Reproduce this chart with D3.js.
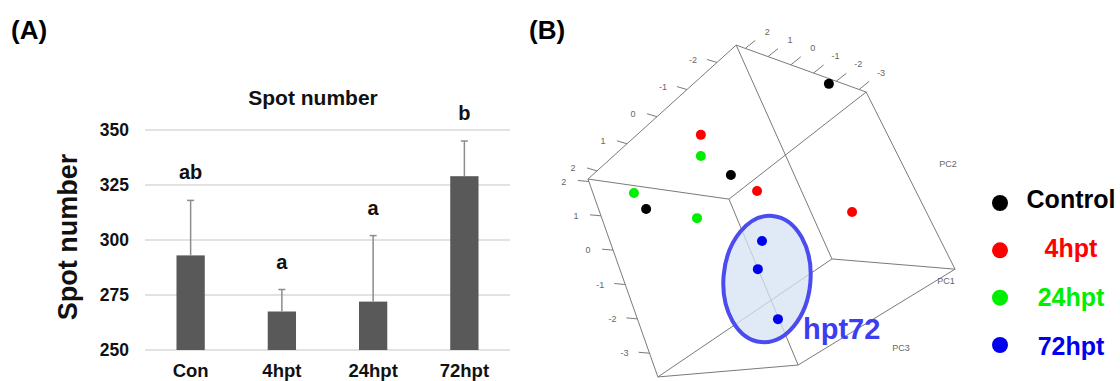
<!DOCTYPE html>
<html>
<head>
<meta charset="utf-8">
<script src="https://cdn.jsdelivr.net/npm/d3@7"></script>
<style>
  body { margin: 0; background: #fff; }
  svg { display: block; font-family: "Liberation Sans", Arial, sans-serif; }
</style>
</head>
<body>
<div id="fig"></div>
<script>
    // ---- panel A: spot number bars ----
    var groups = ["Con", "4hpt", "24hpt", "72hpt"];
    var spotMean = [293, 267.5, 272, 329];
    var spotErr = [25, 10, 30, 16];
    var sigLetters = ["ab", "a", "a", "b"];
    var yTicks = [250, 275, 300, 325, 350];

    // ---- panel B: PCA scores, in projected view units (0..1 of the panel box) ----
    var pcaGroup = ["Control", "Control", "Control",
                    "4hpt", "4hpt", "4hpt",
                    "24hpt", "24hpt", "24hpt",
                    "72hpt", "72hpt", "72hpt"];
    var pcaX = [0.655, 0.397, 0.174, 0.318, 0.466, 0.716, 0.318, 0.142, 0.308, 0.479, 0.468, 0.521];
    var pcaY = [0.129, 0.397, 0.497, 0.279, 0.444, 0.506, 0.341, 0.450, 0.524, 0.591, 0.674, 0.821];
    var legendLabels = ["Control", "4hpt", "24hpt", "72hpt"];
    var legendColors = ["#000000", "#ff0000", "#00ee00", "#0000ee"];
    var topTicks = [2, 1, 0, -1, -2, -3];
    var diagTicks = [-2, -1, 0, 1, 2];
    var sideTicks = [2, 1, 0, -1, -2, -3];

    var width = 1120, height = 381;
    var svg = d3.select("#fig").append("svg")
        .attr("width", width)
        .attr("height", height);

    svg.append("rect").attr("width", width).attr("height", height).attr("fill", "#fff");

    // panel letters
    svg.append("text").attr("x", 11).attr("y", 39)
        .attr("font-size", 26).attr("font-weight", "bold").text("(A)");
    svg.append("text").attr("x", 529).attr("y", 39)
        .attr("font-size", 26).attr("font-weight", "bold").text("(B)");

    // ================= bar chart =================
    var x = d3.scaleBand()
        .domain(groups)
        .range([145, 510])
        .paddingInner(0.69)
        .paddingOuter(0.345);
    var y = d3.scaleLinear().domain([250, 350]).range([350, 130]);

    var gA = svg.append("g").attr("class", "barchart");

    gA.selectAll("line.grid")
        .data(yTicks)
        .enter().append("line")
          .attr("class", "grid")
          .attr("x1", 145).attr("x2", 510)
          .attr("y1", function(d) { return y(d); })
          .attr("y2", function(d) { return y(d); })
          .attr("stroke", "#d9d9d9")
          .attr("stroke-width", 1.5);

    var yAxis = d3.axisLeft(y).tickValues(yTicks).tickSize(0).tickPadding(0);
    gA.append("g")
        .attr("transform", "translate(129,0)")
        .call(yAxis)
        .call(function(g) { g.select(".domain").remove(); })
        .selectAll("text")
          .attr("font-size", 17.5)
          .attr("font-weight", "bold")
          .attr("font-family", "Liberation Sans, Arial, sans-serif")
          .attr("fill", "#111");

    gA.selectAll("rect.bar")
        .data(groups)
        .enter().append("rect")
          .attr("class", "bar")
          .attr("x", function(d) { return x(d); })
          .attr("width", x.bandwidth())
          .attr("y", function(d, i) { return y(spotMean[i]); })
          .attr("height", function(d, i) { return y(250) - y(spotMean[i]); })
          .attr("fill", "#595959");

    // error bars (upper half only)
    var eb = gA.selectAll("g.err")
        .data(groups)
        .enter().append("g")
          .attr("class", "err")
          .attr("stroke", "#8c8c8c")
          .attr("stroke-width", 1.5);
    eb.append("line")
        .attr("x1", function(d) { return x(d) + x.bandwidth() / 2; })
        .attr("x2", function(d) { return x(d) + x.bandwidth() / 2; })
        .attr("y1", function(d, i) { return y(spotMean[i]); })
        .attr("y2", function(d, i) { return y(spotMean[i] + spotErr[i]); });
    eb.append("line")
        .attr("x1", function(d) { return x(d) + x.bandwidth() / 2 - 3.5; })
        .attr("x2", function(d) { return x(d) + x.bandwidth() / 2 + 3.5; })
        .attr("y1", function(d, i) { return y(spotMean[i] + spotErr[i]); })
        .attr("y2", function(d, i) { return y(spotMean[i] + spotErr[i]); });

    // significance letters
    gA.selectAll("text.sig")
        .data(groups)
        .enter().append("text")
          .attr("class", "sig")
          .attr("x", function(d) { return x(d) + x.bandwidth() / 2; })
          .attr("y", function(d, i) { return y(spotMean[i] + spotErr[i]) - 21; })
          .attr("text-anchor", "middle")
          .attr("font-size", 20)
          .attr("font-weight", "bold")
          .attr("fill", "#111")
          .text(function(d, i) { return sigLetters[i]; });

    // x labels
    gA.selectAll("text.xlab")
        .data(groups)
        .enter().append("text")
          .attr("class", "xlab")
          .attr("x", function(d) { return x(d) + x.bandwidth() / 2; })
          .attr("y", 377)
          .attr("text-anchor", "middle")
          .attr("font-size", 18.5)
          .attr("font-weight", "bold")
          .attr("fill", "#111")
          .text(function(d) { return d; });

    gA.append("text")
        .attr("x", 313).attr("y", 105)
        .attr("text-anchor", "middle")
        .attr("font-size", 21)
        .attr("font-weight", "bold")
        .attr("fill", "#111")
        .text("Spot number");

    gA.append("text")
        .attr("transform", "translate(77,237) rotate(-90)")
        .attr("text-anchor", "middle")
        .attr("font-size", 27)
        .attr("font-weight", "bold")
        .attr("fill", "#111")
        .text("Spot number");

    // ================= PCA box =================
    var px = d3.scaleLinear().domain([0, 1]).range([580, 960]);
    var py = d3.scaleLinear().domain([0, 1]).range([40, 380]);

    // projected corners of the plotting cube (view units)
    var corners = {
      T: [0.411, 0.015], R: [0.753, 0.153], L: [0.021, 0.409], I: [0.392, 0.468],
      V: [0.663, 0.644], F: [0.987, 0.674], B: [0.205, 0.991], D: [0.574, 0.956]
    };
    var edges = [["T","R"],["T","L"],["T","V"],["R","F"],["R","I"],["L","I"],
                 ["L","B"],["I","D"],["V","F"],["B","D"],["D","F"],["B","V"]];

    function pt(c) { return [px(corners[c][0]), py(corners[c][1])]; }
    function along(a, b, t) {
      var p = pt(a), q = pt(b);
      return [p[0] + (q[0] - p[0]) * t, p[1] + (q[1] - p[1]) * t];
    }

    var gB = svg.append("g").attr("class", "pca");

    gB.selectAll("line.edge")
        .data(edges)
        .enter().append("line")
          .attr("class", "edge")
          .attr("x1", function(d) { return pt(d[0])[0]; })
          .attr("y1", function(d) { return pt(d[0])[1]; })
          .attr("x2", function(d) { return pt(d[1])[0]; })
          .attr("y2", function(d) { return pt(d[1])[1]; })
          .attr("stroke", "#7a7a7a")
          .attr("stroke-width", 1);

    // axis ticks along three edges
    var tickSets = [
      {vals: topTicks, a: "T", b: "R", scale: d3.scaleLinear().domain([2.4, -3.31]).range([0, 1]),
       dir: [10, -8], lab: [22, -17]},
      {vals: diagTicks, a: "T", b: "L", scale: d3.scaleLinear().domain([-2.64, 2.3]).range([0, 1]),
       dir: [-10, -3], lab: [-24, -3]},
      {vals: sideTicks, a: "L", b: "B", scale: d3.scaleLinear().domain([2.07, -3.69]).range([0, 1]),
       dir: [-11, -1], lab: [-25, 0]}
    ];
    tickSets.forEach(function(ts) {
      var g = gB.append("g");
      var tk = g.selectAll("g").data(ts.vals).enter().append("g")
          .attr("transform", function(d) {
            var p = along(ts.a, ts.b, ts.scale(d));
            return "translate(" + p[0] + "," + p[1] + ")";
          });
      tk.append("line")
          .attr("x2", ts.dir[0]).attr("y2", ts.dir[1])
          .attr("stroke", "#7a7a7a").attr("stroke-width", 1);
      tk.append("text")
          .attr("x", ts.lab[0]).attr("y", ts.lab[1])
          .attr("dy", "0.35em")
          .attr("text-anchor", "middle")
          .attr("font-size", 9)
          .attr("fill", "#666")
          .text(function(d) { return d; });
    });

    var pcLabels = [["PC2", 948, 164], ["PC1", 946, 281], ["PC3", 901, 348]];
    gB.selectAll("text.pc")
        .data(pcLabels)
        .enter().append("text")
          .attr("class", "pc")
          .attr("x", function(d) { return d[1]; })
          .attr("y", function(d) { return d[2]; })
          .attr("dy", "0.35em")
          .attr("text-anchor", "middle")
          .attr("font-size", 9)
          .attr("fill", "#666")
          .text(function(d) { return d[0]; });

    // highlight ellipse around 72hpt
    gB.append("ellipse")
        .attr("transform", "translate(767,279) rotate(5)")
        .attr("rx", 43.5).attr("ry", 63.3)
        .attr("fill", "#d6e3f3").attr("fill-opacity", 0.75)
        .attr("stroke", "#4b4bf0").attr("stroke-width", 4);

    var color = d3.scaleOrdinal().domain(legendLabels).range(legendColors);

    gB.selectAll("circle.score")
        .data(pcaGroup)
        .enter().append("circle")
          .attr("class", "score")
          .attr("cx", function(d, i) { return px(pcaX[i]); })
          .attr("cy", function(d, i) { return py(pcaY[i]); })
          .attr("r", 5)
          .attr("fill", function(d) { return color(d); });

    gB.append("text")
        .attr("x", 803).attr("y", 339)
        .attr("font-size", 29)
        .attr("font-weight", "bold")
        .attr("fill", "#3c3cf0")
        .text("hpt72");

    // legend
    var lg = svg.append("g").attr("class", "legend");
    var lyDot = d3.scalePoint().domain(legendLabels).range([203, 345]);
    var lyText = d3.scalePoint().domain(legendLabels).range([208, 355]);
    lg.selectAll("circle")
        .data(legendLabels)
        .enter().append("circle")
          .attr("cx", 1000)
          .attr("cy", function(d) { return lyDot(d); })
          .attr("r", 8)
          .attr("fill", function(d) { return color(d); });
    lg.selectAll("text")
        .data(legendLabels)
        .enter().append("text")
          .attr("x", 1071)
          .attr("y", function(d) { return lyText(d); })
          .attr("text-anchor", "middle")
          .attr("font-size", 25)
          .attr("font-weight", "bold")
          .attr("fill", function(d) { return color(d); })
          .text(function(d) { return d; });
</script>
</body>
</html>
